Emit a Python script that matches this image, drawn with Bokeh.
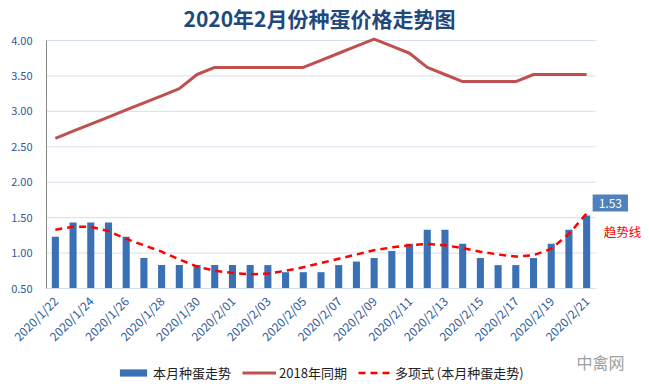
import math
from bokeh.plotting import figure
from bokeh.models import (Legend, LegendItem, Label, FixedTicker, NumeralTickFormatter,
                          Range1d, ColumnDataSource)
from bokeh.embed import file_html
from bokeh.resources import INLINE

dates = (["2020/1/%d" % d for d in range(22, 32)] +
         ["2020/2/%02d" % d for d in range(1, 22)])

this_month = [1.23, 1.43, 1.43, 1.43, 1.23, 0.93, 0.83, 0.83, 0.83, 0.83,
              0.83, 0.83, 0.83, 0.73, 0.73, 0.73, 0.83, 0.88, 0.93, 1.03,
              1.13, 1.33, 1.33, 1.13, 0.93, 0.83, 0.83, 0.93, 1.13, 1.33, 1.53]

same_2018 = [2.62, 2.72, 2.82, 2.92, 3.02, 3.12, 3.22, 3.32, 3.52, 3.62,
             3.62, 3.62, 3.62, 3.62, 3.62, 3.72, 3.82, 3.92, 4.02, 3.92,
             3.82, 3.62, 3.52, 3.42, 3.42, 3.42, 3.42, 3.52, 3.52, 3.52, 3.52]

trend = [1.33, 1.37, 1.37, 1.31, 1.20, 1.11, 1.02, 0.91, 0.81, 0.75,
         0.72, 0.70, 0.71, 0.75, 0.80, 0.86, 0.92, 0.98, 1.04, 1.08,
         1.11, 1.13, 1.11, 1.07, 1.02, 0.98, 0.95, 0.97, 1.06, 1.27, 1.56]

y_ticks = [0.5, 1.0, 1.5, 2.0, 2.5, 3.0, 3.5, 4.0]
y_min, y_max = 0.5, 4.0

title_text = "2020年2月份种蛋价格走势图"
series_names = ["本月种蛋走势", "2018年同期", "多项式 (本月种蛋走势)"]
last_label = "1.53"
trend_note = "趋势线"
watermark = "中禽网"

FONT = "Noto Sans CJK SC"
TICK_COLOR = "#2F5A9A"
GRID_COLOR = "#D6DFEC"

n = len(dates)
idx = list(range(n))
src = ColumnDataSource(dict(x=idx, bar=this_month, y18=same_2018, tr=trend))

# value area: 549 x 248 px; the frame covers the whole figure below the title
# so that axis labels, data label, legend and watermark all sit inside it
PX_X = 549 / n
PX_Y = 248 / (y_max - y_min)
LEFT_PAD = 46
TOP_PAD = 8
FW, FH = 644, 347 + TOP_PAD
x_left = -0.5 - LEFT_PAD / PX_X
x_right = x_left + FW / PX_X
y_top = y_max + TOP_PAD / PX_Y
y_bottom = y_top - FH / PX_Y

p = figure(frame_width=FW, frame_height=FH,
           min_border_left=0, min_border_right=0,
           min_border_top=39 - TOP_PAD, min_border_bottom=0,
           x_range=Range1d(x_left, x_right), y_range=Range1d(y_bottom, y_top),
           output_backend="svg", toolbar_location=None)

p.title.text = title_text
p.title.align = "left"
p.title.offset = 137 + LEFT_PAD
p.title.text_font = FONT
p.title.text_font_size = "21px"
p.title.text_font_style = "bold"
p.title.text_color = "#1F497D"
p.title.standoff = 0

p.outline_line_color = None
p.background_fill_color = "white"
p.border_fill_color = "white"

# horizontal grid lines limited to the category span
p.segment(x0=[-0.5] * len(y_ticks), x1=[n - 0.5] * len(y_ticks),
          y0=y_ticks, y1=y_ticks, line_color=GRID_COLOR, line_width=1)

r_bar = p.vbar(x="x", top="bar", bottom=y_min, width=0.4, source=src,
               fill_color="#3A70B4", line_color=None)
r_18 = p.line(x="x", y="y18", source=src, line_color="#C0504D", line_width=3)
r_tr = p.line(x="x", y="tr", source=src, line_color="#FF0000", line_width=2.5,
              line_dash="7 5")

# axes (placed at fixed positions inside the frame)
p.yaxis.fixed_location = -0.5
p.yaxis.ticker = FixedTicker(ticks=y_ticks)
p.yaxis.bounds = (y_min, y_max)
p.yaxis.formatter = NumeralTickFormatter(format="0.00")
p.yaxis.major_tick_line_color = None
p.yaxis.minor_tick_line_color = None
p.yaxis.axis_line_color = "#868686"
p.yaxis.major_label_text_font = FONT
p.yaxis.major_label_text_font_size = "11px"
p.yaxis.major_label_text_color = TICK_COLOR
p.yaxis.major_label_standoff = 8

p.xaxis.fixed_location = y_min
p.xaxis.bounds = (-0.5, n - 0.5)
p.xaxis.ticker = FixedTicker(ticks=idx[::2])
p.xaxis.major_label_overrides = {i: dates[i] for i in idx[::2]}
p.xaxis.major_label_orientation = math.pi / 4
p.xaxis.major_tick_line_color = None
p.xaxis.minor_tick_line_color = None
p.xaxis.axis_line_color = GRID_COLOR
p.xaxis.major_label_text_font = FONT
p.xaxis.major_label_text_font_size = "12px"
p.xaxis.major_label_text_color = TICK_COLOR
p.xaxis.major_label_standoff = 4

p.xgrid.grid_line_color = None
p.ygrid.grid_line_color = None

# annotations
p.add_layout(Label(x=idx[-1], y=this_month[-1], text=last_label,
                   x_offset=6, y_offset=4, text_font=FONT, text_font_size="12px",
                   text_color="white", background_fill_color="#4F81BD",
                   text_baseline="bottom", text_align="left", padding=(6, 4)))
p.add_layout(Label(x=idx[-1], y=1.30, text=trend_note, x_offset=17,
                   text_font=FONT, text_font_size="12.5px", text_color="#FF0000",
                   text_baseline="middle", text_align="left"))
p.add_layout(Label(x=29.43, y=-0.544, text=watermark, text_font=FONT,
                   text_font_size="16px", text_color="#A0A0A0",
                   text_baseline="middle", text_align="left"))

legend = Legend(items=[LegendItem(label=series_names[0], renderers=[r_bar]),
                       LegendItem(label=series_names[1], renderers=[r_18]),
                       LegendItem(label=series_names[2], renderers=[r_tr])],
                orientation="horizontal", location=(70 + LEFT_PAD, 5),
                label_text_font=FONT, label_text_font_size="13px",
                label_text_color="#222222",
                glyph_width=34, glyph_height=9, label_standoff=3, spacing=11,
                padding=0, margin=0, border_line_color=None,
                background_fill_alpha=0)
p.add_layout(legend, "center")

open("out.html", "w").write(file_html(p, INLINE))
